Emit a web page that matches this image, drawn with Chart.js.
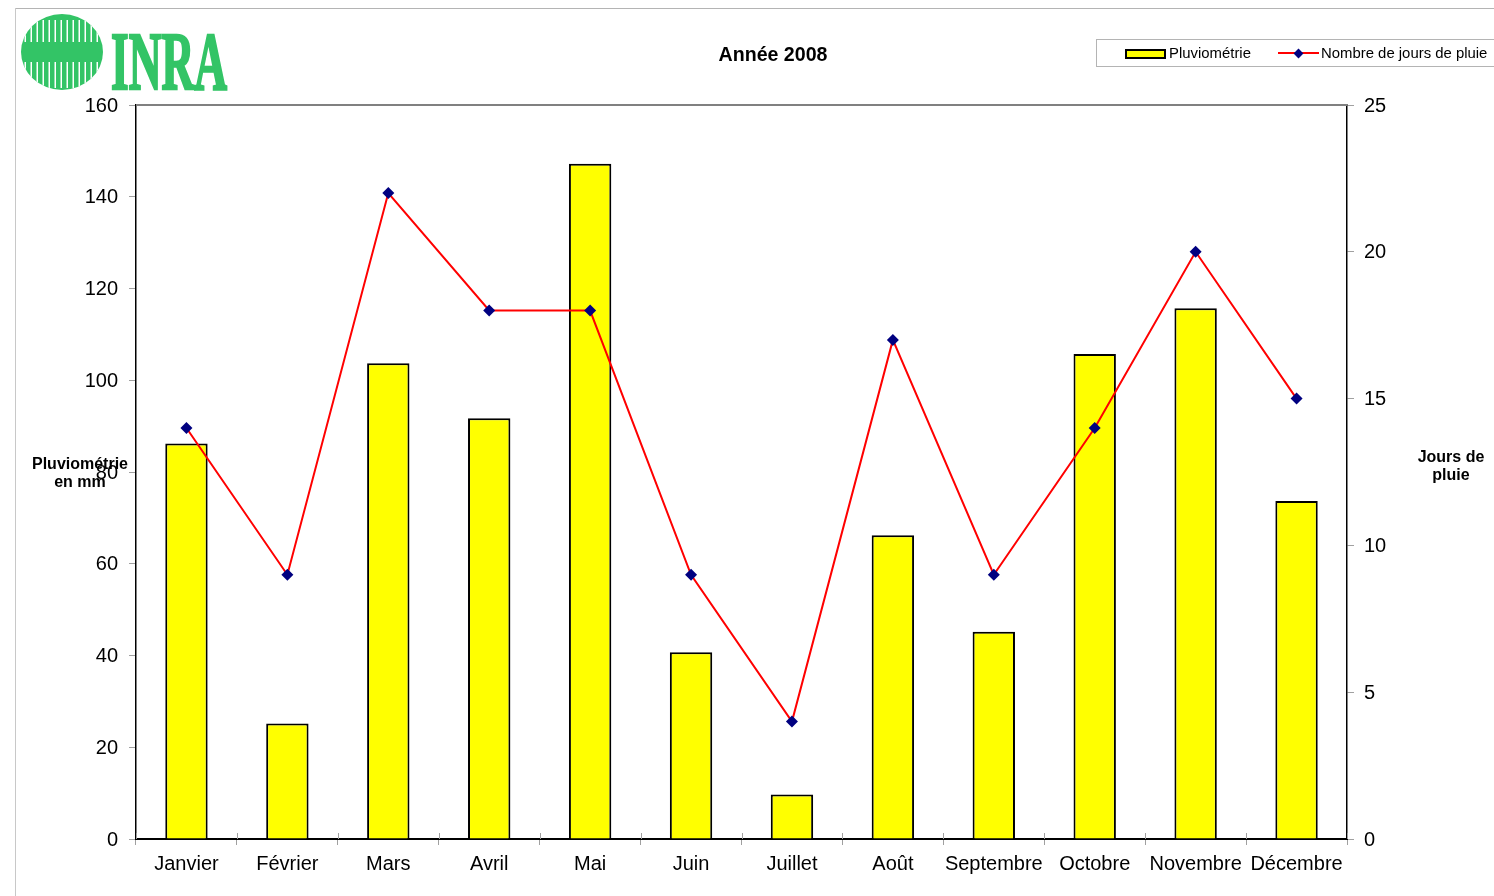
<!DOCTYPE html>
<html lang="fr">
<head>
<meta charset="utf-8">
<title>Année 2008</title>
<script src="https://cdn.jsdelivr.net/npm/chart.js@4.4.0/dist/chart.umd.min.js"></script>
<style>
  html, body { margin: 0; background: #fff; overflow: hidden; }
  body { width: 1494px; height: 896px; position: relative; font-family: "Liberation Sans", Arial, sans-serif; color: #000; }
  canvas { position: absolute; left: 0; top: 0; }
  .frame-top { position: absolute; left: 15px; top: 8px; right: 0; height: 1px; background: #b4b4b4; }
  .frame-left { position: absolute; left: 15px; top: 8px; bottom: 0; width: 1px; background: #c8c8c8; }
  .logo { position: absolute; left: 20px; top: 12px; }
  .title { position: absolute; left: 773px; top: 42px; transform: translateX(-50%); font-weight: bold; font-size: 19.6px; line-height: 24px; white-space: nowrap; }
  .axis-title { position: absolute; transform: translateX(-50%); text-align: center; font-weight: bold; font-size: 16px; line-height: 18px; white-space: nowrap; }
  .legend { position: absolute; left: 1096px; top: 39px; width: 398px; height: 28px; border: 1px solid #b4b4b4; border-right: 0; box-sizing: border-box; font-size: 14.9px; }
  .legend span { position: absolute; top: 4px; line-height: 18px; white-space: nowrap; }
  .swatch { position: absolute; left: 28px; top: 9px; width: 41px; height: 10px; box-sizing: border-box; background: #ffff00; border: 2px solid #000; }
  .key-line { position: absolute; left: 181px; top: 12px; width: 41px; height: 2px; background: #ff0000; }
  .key-dot { position: absolute; left: 198px; top: 10px; width: 7px; height: 7px; background: #000080; transform: rotate(45deg); }
</style>
</head>
<body>
<canvas id="chart" width="1494" height="896"></canvas>
<div class="frame-top"></div>
<div class="frame-left"></div>

<svg class="logo" width="215" height="82" viewBox="0 0 215 82">
  <defs>
    <clipPath id="disc"><ellipse cx="42" cy="40" rx="41" ry="38"/></clipPath>
    <pattern id="stripes" width="6" height="6" patternUnits="userSpaceOnUse">
      <rect x="4.5" width="1.5" height="6" fill="#fff"/>
    </pattern>
  </defs>
  <ellipse cx="42" cy="40" rx="41" ry="38" fill="#33c466"/>
  <g clip-path="url(#disc)">
    <rect x="0" y="8" width="84" height="22" fill="url(#stripes)"/>
    <rect x="0" y="50" width="84" height="26" fill="url(#stripes)"/>
  </g>
  <text x="91" y="77" font-family="Liberation Serif" font-weight="bold" font-size="82" fill="#33c466" stroke="#33c466" stroke-width="2.5" textLength="116" lengthAdjust="spacingAndGlyphs">INRA</text>
</svg>

<div class="title">Année 2008</div>
<div class="axis-title" style="left:80px;top:455px">Pluviométrie<br>en mm</div>
<div class="axis-title" style="left:1451px;top:448px">Jours de<br>pluie</div>

<div class="legend">
  <i class="swatch"></i><span id="legend-bar" style="left:72px"></span>
  <i class="key-line"></i><i class="key-dot"></i><span id="legend-line" style="left:224px"></span>
</div>

<script>
// Données
const mois = ['Janvier', 'Février', 'Mars', 'Avril', 'Mai', 'Juin', 'Juillet', 'Août', 'Septembre', 'Octobre', 'Novembre', 'Décembre'];
const pluviometrie = [86.2, 25.2, 103.7, 91.7, 147.2, 40.7, 9.7, 66.2, 45.2, 105.7, 115.7, 73.7];
const joursDePluie = [14, 9, 22, 18, 18, 9, 4, 17, 9, 14, 20, 15];
const nomBarres = 'Pluviométrie';
const nomLigne = 'Nombre de jours de pluie';

document.getElementById('legend-bar').textContent = nomBarres;
document.getElementById('legend-line').textContent = nomLigne;

const font = { family: '"Liberation Sans", Arial, sans-serif', size: 20 };
const tickGray = '#a0a0a0';

// Ligne du haut en gris + petits traits de l'axe X qui remontent dans le graphique
const plotExtras = {
  id: 'plotExtras',
  afterDatasetsDraw(chart) {
    const { ctx, chartArea, scales } = chart;
    ctx.save();
    ctx.strokeStyle = '#808080';
    ctx.lineWidth = 2;
    ctx.beginPath();
    ctx.moveTo(chartArea.left, chartArea.top);
    ctx.lineTo(chartArea.right, chartArea.top);
    ctx.stroke();
    ctx.strokeStyle = tickGray;
    ctx.lineWidth = 1;
    for (let i = 0; i <= mois.length; i++) {
      const x = Math.round(scales.x.left + i * scales.x.width / mois.length) + 0.5;
      ctx.beginPath();
      ctx.moveTo(x, chartArea.bottom - 6);
      ctx.lineTo(x, chartArea.bottom);
      ctx.stroke();
    }
    ctx.restore();
  }
};

new Chart(document.getElementById('chart'), {
  data: {
    labels: mois,
    datasets: [
      {
        type: 'line',
        label: nomLigne,
        data: joursDePluie,
        yAxisID: 'y1',
        order: 1,
        borderColor: '#ff0000',
        borderWidth: 2,
        tension: 0,
        pointStyle: 'rectRot',
        pointRadius: 6,
        pointBackgroundColor: '#000080',
        pointBorderColor: '#000080',
        pointBorderWidth: 0
      },
      {
        type: 'bar',
        label: nomBarres,
        data: pluviometrie,
        yAxisID: 'y',
        order: 2,
        backgroundColor: '#ffff00',
        borderColor: '#000000',
        borderWidth: 2,
        barPercentage: 0.42,
        categoryPercentage: 1
      }
    ]
  },
  options: {
    responsive: false,
    animation: false,
    layout: { padding: { top: 105, left: 0, right: 0, bottom: 0 } },
    plugins: {
      legend: { display: false },
      title: { display: false },
      tooltip: { enabled: false }
    },
    scales: {
      x: {
        offset: true,
        afterFit: (s) => { s.height = 57; },
        border: { color: '#000', width: 2 },
        grid: { offset: true, drawOnChartArea: false, color: tickGray, tickLength: 6 },
        ticks: { color: '#000', font, padding: 7, maxRotation: 0, autoSkip: false }
      },
      y: {
        position: 'left',
        min: 0,
        max: 160,
        afterFit: (s) => { s.width = 136; },
        border: { color: '#000', width: 1.5 },
        grid: { drawOnChartArea: false, color: tickGray, tickLength: 7 },
        ticks: { color: '#000', font, stepSize: 20, padding: 11, labelOffset: 1 }
      },
      y1: {
        position: 'right',
        min: 0,
        max: 25,
        afterFit: (s) => { s.width = 147; },
        border: { color: '#000', width: 1.5 },
        grid: { drawOnChartArea: false, color: tickGray, tickLength: 7 },
        ticks: { color: '#000', font, stepSize: 5, padding: 10, labelOffset: 1 }
      }
    }
  },
  plugins: [plotExtras]
});
</script>
</body>
</html>
